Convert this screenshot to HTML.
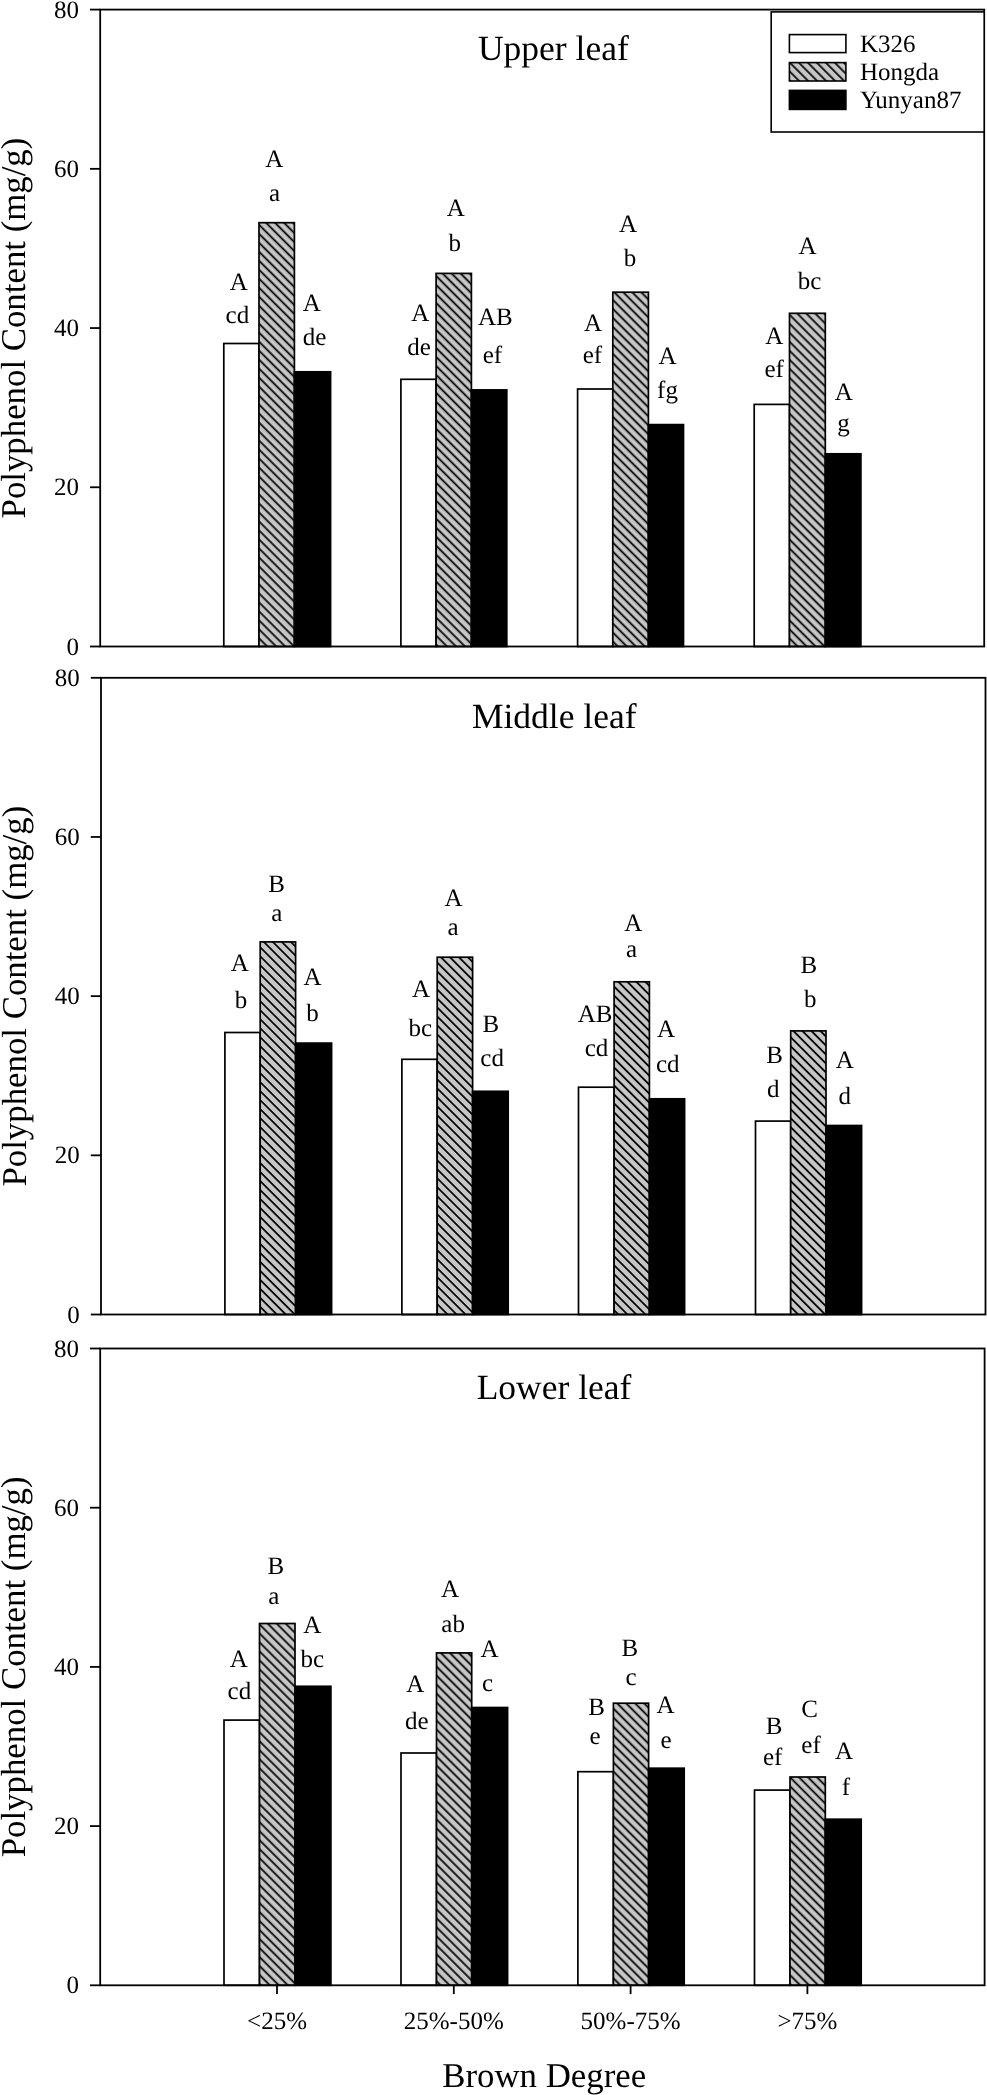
<!DOCTYPE html>
<html><head><meta charset="utf-8"><title>Polyphenol Content</title>
<style>
html,body{margin:0;padding:0;background:#fff;}
body{width:987px;height:2095px;overflow:hidden;}
svg{display:block;will-change:transform;}
text{font-family:"Liberation Serif", serif;fill:#000;text-rendering:geometricPrecision;}
</style></head><body>
<svg width="987" height="2095" viewBox="0 0 987 2095">
<defs>
<pattern id="hatch1" patternUnits="userSpaceOnUse" width="6.3569" height="10" patternTransform="rotate(-45)"><rect x="0" y="0" width="6.3569" height="10" fill="#c6c6c6"/><rect x="4.280" y="-1" width="1.75" height="12" fill="#000"/></pattern>
<pattern id="hatch2" patternUnits="userSpaceOnUse" width="6.3569" height="10" patternTransform="rotate(-45)"><rect x="0" y="0" width="6.3569" height="10" fill="#c6c6c6"/><rect x="2.795" y="-1" width="1.75" height="12" fill="#000"/></pattern>
<pattern id="hatch3" patternUnits="userSpaceOnUse" width="6.3569" height="10" patternTransform="rotate(-45)"><rect x="0" y="0" width="6.3569" height="10" fill="#c6c6c6"/><rect x="0.320" y="-1" width="1.75" height="12" fill="#000"/></pattern>
<pattern id="hatchL" patternUnits="userSpaceOnUse" width="6.3569" height="10" patternTransform="rotate(-45)"><rect x="0" y="0" width="6.3569" height="10" fill="#c6c6c6"/><rect x="4.810" y="-1" width="1.75" height="12" fill="#000"/><rect x="-1.547" y="-1" width="1.75" height="12" fill="#000"/></pattern>
</defs>
<rect x="0" y="0" width="987" height="2095" fill="#fff"/>

<g id="panel1">
<rect x="223.8" y="343.5" width="35.2" height="303" fill="#fff" stroke="#000" stroke-width="1.7"/>
<rect x="259" y="222.7" width="35.4" height="423.8" fill="url(#hatch1)" stroke="#000" stroke-width="1.7"/>
<rect x="294.4" y="371.8" width="36.2" height="274.7" fill="#000" stroke="#000" stroke-width="1.7"/>
<rect x="400.9" y="379.3" width="35.2" height="267.2" fill="#fff" stroke="#000" stroke-width="1.7"/>
<rect x="436.1" y="273.4" width="35.3" height="373.1" fill="url(#hatch1)" stroke="#000" stroke-width="1.7"/>
<rect x="471.4" y="389.9" width="35.4" height="256.6" fill="#000" stroke="#000" stroke-width="1.7"/>
<rect x="577.6" y="389" width="35.2" height="257.5" fill="#fff" stroke="#000" stroke-width="1.7"/>
<rect x="612.8" y="292.2" width="35.6" height="354.3" fill="url(#hatch1)" stroke="#000" stroke-width="1.7"/>
<rect x="648.4" y="424.6" width="35.1" height="221.9" fill="#000" stroke="#000" stroke-width="1.7"/>
<rect x="754.2" y="404.4" width="35.3" height="242.1" fill="#fff" stroke="#000" stroke-width="1.7"/>
<rect x="789.5" y="313.3" width="35.8" height="333.2" fill="url(#hatch1)" stroke="#000" stroke-width="1.7"/>
<rect x="825.3" y="453.8" width="35.6" height="192.7" fill="#000" stroke="#000" stroke-width="1.7"/>
<rect x="100.2" y="9.6" width="884" height="636.9" fill="none" stroke="#000" stroke-width="1.8" stroke-linejoin="miter"/>
<line x1="90" y1="646.5" x2="100.2" y2="646.5" stroke="#000" stroke-width="1.8"/>
<text x="79" y="654.5" font-size="25" text-anchor="end">0</text>
<line x1="90" y1="487.27" x2="100.2" y2="487.27" stroke="#000" stroke-width="1.8"/>
<text x="79" y="495.27" font-size="25" text-anchor="end">20</text>
<line x1="90" y1="328.05" x2="100.2" y2="328.05" stroke="#000" stroke-width="1.8"/>
<text x="79" y="336.05" font-size="25" text-anchor="end">40</text>
<line x1="90" y1="168.83" x2="100.2" y2="168.83" stroke="#000" stroke-width="1.8"/>
<text x="79" y="176.83" font-size="25" text-anchor="end">60</text>
<line x1="90" y1="9.6" x2="100.2" y2="9.6" stroke="#000" stroke-width="1.8"/>
<text x="79" y="17.6" font-size="25" text-anchor="end">80</text>
<text x="553.35" y="59.8" font-size="35.5" text-anchor="middle">Upper leaf</text>
<text x="238.7" y="289.9" font-size="25" text-anchor="middle">A</text>
<text x="237.4" y="323.1" font-size="25" text-anchor="middle">cd</text>
<text x="274.3" y="167" font-size="25" text-anchor="middle">A</text>
<text x="274.5" y="200.6" font-size="25" text-anchor="middle">a</text>
<text x="311.8" y="311.2" font-size="25" text-anchor="middle">A</text>
<text x="314.5" y="344.8" font-size="25" text-anchor="middle">de</text>
<text x="420.3" y="321" font-size="25" text-anchor="middle">A</text>
<text x="419" y="355" font-size="25" text-anchor="middle">de</text>
<text x="455.8" y="215.9" font-size="25" text-anchor="middle">A</text>
<text x="454.8" y="251.1" font-size="25" text-anchor="middle">b</text>
<text x="495.4" y="324.6" font-size="25" text-anchor="middle">AB</text>
<text x="492.4" y="363.4" font-size="25" text-anchor="middle">ef</text>
<text x="593.1" y="331.1" font-size="25" text-anchor="middle">A</text>
<text x="592.4" y="362.7" font-size="25" text-anchor="middle">ef</text>
<text x="628" y="231.6" font-size="25" text-anchor="middle">A</text>
<text x="629.9" y="265.5" font-size="25" text-anchor="middle">b</text>
<text x="667.5" y="363.7" font-size="25" text-anchor="middle">A</text>
<text x="667.5" y="398.4" font-size="25" text-anchor="middle">fg</text>
<text x="774.2" y="343.8" font-size="25" text-anchor="middle">A</text>
<text x="774.2" y="377.1" font-size="25" text-anchor="middle">ef</text>
<text x="807.6" y="254.2" font-size="25" text-anchor="middle">A</text>
<text x="809.5" y="289.4" font-size="25" text-anchor="middle">bc</text>
<text x="843.8" y="399.5" font-size="25" text-anchor="middle">A</text>
<text x="843.5" y="431" font-size="25" text-anchor="middle">g</text>
</g>
<g id="panel2">
<rect x="224.9" y="1032.5" width="35.3" height="282" fill="#fff" stroke="#000" stroke-width="1.7"/>
<rect x="260.2" y="941.9" width="35.4" height="372.6" fill="url(#hatch2)" stroke="#000" stroke-width="1.7"/>
<rect x="295.6" y="1043.1" width="36" height="271.4" fill="#000" stroke="#000" stroke-width="1.7"/>
<rect x="401.9" y="1059.3" width="35.3" height="255.2" fill="#fff" stroke="#000" stroke-width="1.7"/>
<rect x="437.2" y="957.2" width="35.4" height="357.3" fill="url(#hatch2)" stroke="#000" stroke-width="1.7"/>
<rect x="472.6" y="1091.3" width="35.6" height="223.2" fill="#000" stroke="#000" stroke-width="1.7"/>
<rect x="578.5" y="1087.2" width="35.6" height="227.3" fill="#fff" stroke="#000" stroke-width="1.7"/>
<rect x="614.1" y="981.8" width="35.3" height="332.7" fill="url(#hatch2)" stroke="#000" stroke-width="1.7"/>
<rect x="649.4" y="1098.8" width="35.2" height="215.7" fill="#000" stroke="#000" stroke-width="1.7"/>
<rect x="755.5" y="1121.1" width="35.2" height="193.4" fill="#fff" stroke="#000" stroke-width="1.7"/>
<rect x="790.7" y="1030.9" width="35.3" height="283.6" fill="url(#hatch2)" stroke="#000" stroke-width="1.7"/>
<rect x="826" y="1125.5" width="35.6" height="189" fill="#000" stroke="#000" stroke-width="1.7"/>
<rect x="101" y="677.8" width="884.5" height="636.7" fill="none" stroke="#000" stroke-width="1.8" stroke-linejoin="miter"/>
<line x1="90.8" y1="1314.5" x2="101" y2="1314.5" stroke="#000" stroke-width="1.8"/>
<text x="79.8" y="1322.5" font-size="25" text-anchor="end">0</text>
<line x1="90.8" y1="1155.33" x2="101" y2="1155.33" stroke="#000" stroke-width="1.8"/>
<text x="79.8" y="1163.33" font-size="25" text-anchor="end">20</text>
<line x1="90.8" y1="996.15" x2="101" y2="996.15" stroke="#000" stroke-width="1.8"/>
<text x="79.8" y="1004.15" font-size="25" text-anchor="end">40</text>
<line x1="90.8" y1="836.97" x2="101" y2="836.97" stroke="#000" stroke-width="1.8"/>
<text x="79.8" y="844.97" font-size="25" text-anchor="end">60</text>
<line x1="90.8" y1="677.8" x2="101" y2="677.8" stroke="#000" stroke-width="1.8"/>
<text x="79.8" y="685.8" font-size="25" text-anchor="end">80</text>
<text x="554.25" y="728.3" font-size="35.5" text-anchor="middle">Middle leaf</text>
<text x="239.8" y="970.6" font-size="25" text-anchor="middle">A</text>
<text x="241.1" y="1007.5" font-size="25" text-anchor="middle">b</text>
<text x="276.6" y="891.6" font-size="25" text-anchor="middle">B</text>
<text x="276.9" y="920.9" font-size="25" text-anchor="middle">a</text>
<text x="312.5" y="984.5" font-size="25" text-anchor="middle">A</text>
<text x="312.5" y="1021" font-size="25" text-anchor="middle">b</text>
<text x="421" y="996.7" font-size="25" text-anchor="middle">A</text>
<text x="420.3" y="1035.7" font-size="25" text-anchor="middle">bc</text>
<text x="453.6" y="905.8" font-size="25" text-anchor="middle">A</text>
<text x="453" y="934.5" font-size="25" text-anchor="middle">a</text>
<text x="490.8" y="1032.3" font-size="25" text-anchor="middle">B</text>
<text x="492.1" y="1066.3" font-size="25" text-anchor="middle">cd</text>
<text x="595" y="1022.1" font-size="25" text-anchor="middle">AB</text>
<text x="596.5" y="1056.2" font-size="25" text-anchor="middle">cd</text>
<text x="633.2" y="930.8" font-size="25" text-anchor="middle">A</text>
<text x="631.6" y="957.2" font-size="25" text-anchor="middle">a</text>
<text x="666.1" y="1037.3" font-size="25" text-anchor="middle">A</text>
<text x="667.8" y="1072.2" font-size="25" text-anchor="middle">cd</text>
<text x="774.6" y="1063.2" font-size="25" text-anchor="middle">B</text>
<text x="773.3" y="1096.7" font-size="25" text-anchor="middle">d</text>
<text x="808.9" y="973.2" font-size="25" text-anchor="middle">B</text>
<text x="810.2" y="1007.4" font-size="25" text-anchor="middle">b</text>
<text x="844.8" y="1067.8" font-size="25" text-anchor="middle">A</text>
<text x="844.7" y="1104" font-size="25" text-anchor="middle">d</text>
</g>
<g id="panel3">
<rect x="224" y="1720.1" width="35.5" height="265.2" fill="#fff" stroke="#000" stroke-width="1.7"/>
<rect x="259.5" y="1623.5" width="35.5" height="361.8" fill="url(#hatch3)" stroke="#000" stroke-width="1.7"/>
<rect x="295" y="1686.3" width="35.9" height="299" fill="#000" stroke="#000" stroke-width="1.7"/>
<rect x="401" y="1753" width="35.5" height="232.3" fill="#fff" stroke="#000" stroke-width="1.7"/>
<rect x="436.5" y="1652.9" width="35.2" height="332.4" fill="url(#hatch3)" stroke="#000" stroke-width="1.7"/>
<rect x="471.7" y="1707.5" width="35.9" height="277.8" fill="#000" stroke="#000" stroke-width="1.7"/>
<rect x="577.9" y="1771.7" width="35.5" height="213.6" fill="#fff" stroke="#000" stroke-width="1.7"/>
<rect x="613.4" y="1703.2" width="35.2" height="282.1" fill="url(#hatch3)" stroke="#000" stroke-width="1.7"/>
<rect x="648.6" y="1768.2" width="35.6" height="217.1" fill="#000" stroke="#000" stroke-width="1.7"/>
<rect x="754.5" y="1790.1" width="35.5" height="195.2" fill="#fff" stroke="#000" stroke-width="1.7"/>
<rect x="790" y="1777" width="35.3" height="208.3" fill="url(#hatch3)" stroke="#000" stroke-width="1.7"/>
<rect x="825.3" y="1819.2" width="35.9" height="166.1" fill="#000" stroke="#000" stroke-width="1.7"/>
<rect x="100.2" y="1348.5" width="884.4" height="636.8" fill="none" stroke="#000" stroke-width="1.8" stroke-linejoin="miter"/>
<line x1="90" y1="1985.3" x2="100.2" y2="1985.3" stroke="#000" stroke-width="1.8"/>
<text x="79" y="1993.3" font-size="25" text-anchor="end">0</text>
<line x1="90" y1="1826.1" x2="100.2" y2="1826.1" stroke="#000" stroke-width="1.8"/>
<text x="79" y="1834.1" font-size="25" text-anchor="end">20</text>
<line x1="90" y1="1666.9" x2="100.2" y2="1666.9" stroke="#000" stroke-width="1.8"/>
<text x="79" y="1674.9" font-size="25" text-anchor="end">40</text>
<line x1="90" y1="1507.7" x2="100.2" y2="1507.7" stroke="#000" stroke-width="1.8"/>
<text x="79" y="1515.7" font-size="25" text-anchor="end">60</text>
<line x1="90" y1="1348.5" x2="100.2" y2="1348.5" stroke="#000" stroke-width="1.8"/>
<text x="79" y="1356.5" font-size="25" text-anchor="end">80</text>
<text x="554.05" y="1399.1" font-size="35.5" text-anchor="middle">Lower leaf</text>
<text x="238.7" y="1667" font-size="25" text-anchor="middle">A</text>
<text x="239.4" y="1698.6" font-size="25" text-anchor="middle">cd</text>
<text x="275.9" y="1574.1" font-size="25" text-anchor="middle">B</text>
<text x="273.9" y="1603.8" font-size="25" text-anchor="middle">a</text>
<text x="312.2" y="1632.5" font-size="25" text-anchor="middle">A</text>
<text x="312.3" y="1667" font-size="25" text-anchor="middle">bc</text>
<text x="415.4" y="1692.1" font-size="25" text-anchor="middle">A</text>
<text x="416.9" y="1728.6" font-size="25" text-anchor="middle">de</text>
<text x="450" y="1596.9" font-size="25" text-anchor="middle">A</text>
<text x="453.1" y="1632.4" font-size="25" text-anchor="middle">ab</text>
<text x="489.5" y="1657.2" font-size="25" text-anchor="middle">A</text>
<text x="487.5" y="1691.1" font-size="25" text-anchor="middle">c</text>
<text x="596.7" y="1714.6" font-size="25" text-anchor="middle">B</text>
<text x="595" y="1743.8" font-size="25" text-anchor="middle">e</text>
<text x="629.9" y="1655.8" font-size="25" text-anchor="middle">B</text>
<text x="631" y="1685.2" font-size="25" text-anchor="middle">c</text>
<text x="665.5" y="1712.9" font-size="25" text-anchor="middle">A</text>
<text x="666.1" y="1747.8" font-size="25" text-anchor="middle">e</text>
<text x="774.2" y="1733.9" font-size="25" text-anchor="middle">B</text>
<text x="772.7" y="1764.8" font-size="25" text-anchor="middle">ef</text>
<text x="809.5" y="1717.2" font-size="25" text-anchor="middle">C</text>
<text x="811" y="1753" font-size="25" text-anchor="middle">ef</text>
<text x="844" y="1758.9" font-size="25" text-anchor="middle">A</text>
<text x="845.8" y="1794.5" font-size="25" text-anchor="middle">f</text>
</g>
<line x1="277" y1="1985.3" x2="277" y2="1994.1" stroke="#000" stroke-width="1.8"/>
<text x="277" y="2028.5" font-size="25" text-anchor="middle">&lt;25%</text>
<line x1="453.8" y1="1985.3" x2="453.8" y2="1994.1" stroke="#000" stroke-width="1.8"/>
<text x="453.8" y="2028.5" font-size="25" text-anchor="middle">25%-50%</text>
<line x1="630.6" y1="1985.3" x2="630.6" y2="1994.1" stroke="#000" stroke-width="1.8"/>
<text x="630.6" y="2028.5" font-size="25" text-anchor="middle">50%-75%</text>
<line x1="807.4" y1="1985.3" x2="807.4" y2="1994.1" stroke="#000" stroke-width="1.8"/>
<text x="807.4" y="2028.5" font-size="25" text-anchor="middle">&gt;75%</text>
<text x="544.2" y="2087" font-size="34.8" text-anchor="middle">Brown Degree</text>
<text transform="translate(24.9 328.05) rotate(-90)" x="0" y="0" font-size="34.8" text-anchor="middle">Polyphenol Content (mg/g)</text>
<text transform="translate(26.1 996.15) rotate(-90)" x="0" y="0" font-size="34.8" text-anchor="middle">Polyphenol Content (mg/g)</text>
<text transform="translate(24.9 1666.9) rotate(-90)" x="0" y="0" font-size="34.8" text-anchor="middle">Polyphenol Content (mg/g)</text>
<g id="legend">
<rect x="771.2" y="11.9" width="213" height="120.1" fill="#fff" stroke="#000" stroke-width="1.6"/>
<rect x="789.4" y="34.6" width="56.5" height="18" fill="#fff" stroke="#000" stroke-width="1.6"/>
<text x="860.0" y="51.6" font-size="25">K326</text>
<rect x="789.4" y="62.6" width="56.5" height="18.4" fill="url(#hatchL)" stroke="#000" stroke-width="1.6"/>
<text x="860.0" y="79.6" font-size="25">Hongda</text>
<rect x="789.4" y="90.4" width="56.5" height="19" fill="#000" stroke="#000" stroke-width="1.6"/>
<text x="860.0" y="107.8" font-size="25">Yunyan87</text>
</g>
</svg>
</body></html>
